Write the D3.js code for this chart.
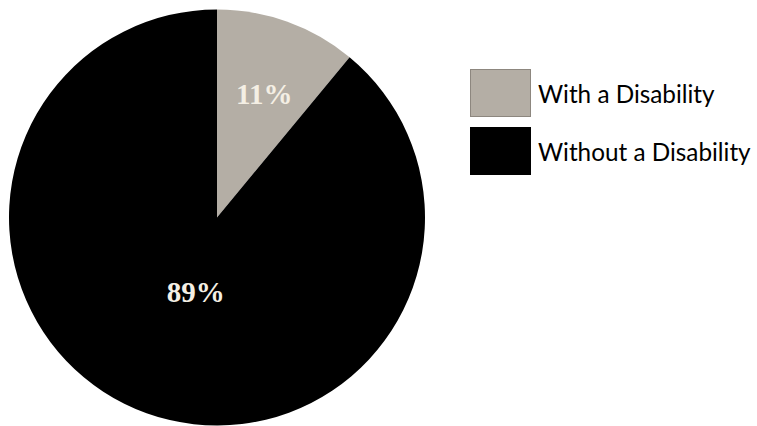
<!DOCTYPE html>
<html><head><meta charset="utf-8">
<script src="https://cdn.jsdelivr.net/npm/d3@7"></script>
<style>body{margin:0;background:#fff}svg{display:block}</style>
</head><body>
<svg id="c" width="757" height="426"></svg>
<script>
const categories = ["With a Disability", "Without a Disability"];
const values = [11, 89];
const labels = ["11%", "89%"];
const colors = ["#b4aea5", "#000000"];

const svg = d3.select("#c");
const cx = 217, cy = 217.5, R = 208;
const g = svg.append("g").attr("transform", `translate(${cx},${cy})`);
const pie = d3.pie().sort(null).value(d => d)(values);
const arc = d3.arc().innerRadius(0).outerRadius(R);
g.selectAll("path").data(pie).join("path")
  .attr("d", arc).attr("fill", (d, i) => colors[i]);

// label placement: radius and angular nudge (radians) per slice
const labelR = [132, 78];
const labelNudge = [0.02, -0.07];
g.selectAll("text").data(pie).join("text")
  .attr("transform", (d, i) => {
    const a = (d.startAngle + d.endAngle) / 2 + labelNudge[i];
    const p = d3.pointRadial(a, labelR[i]);
    return `translate(${p[0]},${p[1]})`;
  })
  .attr("text-anchor", "middle").attr("dy", "0.33em")
  .attr("font-family", "Liberation Serif, serif").attr("font-weight", "bold")
  .attr("font-size", 29).attr("fill", "#f4efe4")
  .text((d, i) => labels[i]);

const lg = svg.append("g").attr("transform", "translate(470,69)");
const item = lg.selectAll("g").data(categories).join("g")
  .attr("transform", (d, i) => `translate(0,${i * 58})`);
item.append("rect").attr("x", 0.5).attr("y", 0.5).attr("width", 60).attr("height", 47)
  .attr("fill", (d, i) => colors[i])
  .attr("stroke", (d, i) => i === 0 ? "#8d877f" : "#000").attr("stroke-width", 1);
item.append("text").attr("x", 68).attr("y", 34)
  .attr("font-family", "Lato, sans-serif").attr("font-size", 24.3).attr("fill", "#000")
  .text(d => d);
</script>
</body></html>
